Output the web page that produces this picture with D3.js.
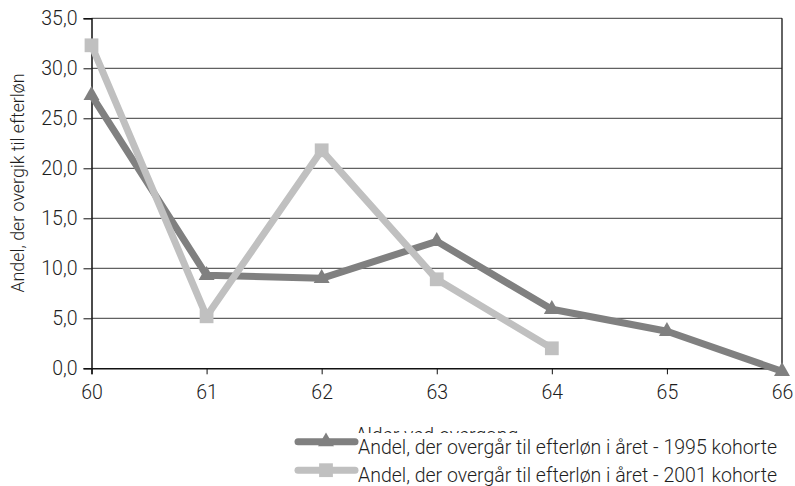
<!DOCTYPE html>
<html>
<head>
<meta charset="utf-8">
<script src="https://cdn.jsdelivr.net/npm/d3@7"></script>
<style>
  html, body { margin: 0; padding: 0; background: #fff; }
  svg text { font-family: Roboto, "Noto Sans", sans-serif; font-weight: 300; fill: #1e1e1e; }
</style>
</head>
<body>
<svg id="chart" width="795" height="486"></svg>
<script>
// Ages on the x axis
const ages = [60, 61, 62, 63, 64, 65, 66];
// Share (%) moving to early retirement in each year of age
const cohort1995 = [27.3, 9.3, 9.0, 12.7, 5.9, 3.7, -0.3];
const cohort2001 = [32.3, 5.2, 21.8, 8.9, 2.0];
const yTicks = [0, 5, 10, 15, 20, 25, 30, 35];
const seriesNames = [
  "Andel, der overgår til efterløn i året - 1995 kohorte",
  "Andel, der overgår til efterløn i året - 2001 kohorte"
];
const xTitle = "Alder ved overgang";
const yTitle = "Andel, der overgik til efterløn";

const FS = 19.5;
const svg = d3.select("#chart");
const m = { left: 91.5, right: 782, top: 18.3, bottom: 368.3 };

const x = d3.scaleLinear().domain([60, 66]).range([m.left, m.right]);
const y = d3.scaleLinear().domain([0, 35]).range([m.bottom, m.top]);
const fmt = v => d3.format(".1f")(v).replace(".", ",");

// horizontal gridlines
svg.append("g").selectAll("line").data(yTicks.filter(t => t > 0)).join("line")
  .attr("x1", m.left).attr("x2", m.right)
  .attr("y1", d => y(d)).attr("y2", d => y(d))
  .attr("stroke", "#3a3a3a").attr("stroke-width", 1);

// right border of the plot area
svg.append("line").attr("x1", m.right).attr("x2", m.right)
  .attr("y1", m.top).attr("y2", m.bottom)
  .attr("stroke", "#111").attr("stroke-width", 1.3);

// y axis
const yAxis = svg.append("g").attr("transform", `translate(${m.left},0)`)
  .call(d3.axisLeft(y).tickValues(yTicks).tickFormat(fmt).tickSize(8).tickPadding(6));
yAxis.attr("font-size", FS).attr("font-family", null);
yAxis.select(".domain").attr("stroke", "#111").attr("stroke-width", 1.5);
yAxis.selectAll(".tick line").attr("stroke", "#111");
yAxis.selectAll("text").style("font-size", FS + "px").attr("fill", "#1e1e1e");

// x axis
const xAxis = svg.append("g").attr("transform", `translate(0,${m.bottom})`)
  .call(d3.axisBottom(x).tickValues(ages).tickFormat(d3.format("d")).tickSize(6).tickPadding(11));
xAxis.attr("font-size", FS).attr("font-family", null);
xAxis.select(".domain").attr("stroke", "#111").attr("stroke-width", 1.5);
xAxis.selectAll(".tick line").attr("stroke", "#111");
xAxis.selectAll("text").style("font-size", FS + "px").attr("fill", "#1e1e1e");

// axis titles
svg.append("text")
  .attr("transform", `translate(24,183) rotate(-90)`)
  .attr("text-anchor", "middle").style("font-size", "17.8px").text(yTitle);
svg.append("text")
  .attr("x", (m.left + m.right) / 2).attr("y", 442)
  .attr("text-anchor", "middle").style("font-size", FS + "px").text(xTitle);

const line = d3.line().x((d, i) => x(ages[i])).y(d => y(d));
const triangle = d3.symbol().type(d3.symbolTriangle).size(110);
const square = d3.symbol().type(d3.symbolSquare).size(190);

const series = [
  { values: cohort1995, color: "#808080", sym: triangle },
  { values: cohort2001, color: "#c0c0c0", sym: square }
];

series.forEach(s => {
  svg.append("path").datum(s.values)
    .attr("d", line).attr("fill", "none")
    .attr("stroke", s.color).attr("stroke-width", 7)
    .attr("stroke-linejoin", "round").attr("stroke-linecap", "round");
});
series.forEach(s => {
  svg.append("g").selectAll("path").data(s.values).join("path")
    .attr("d", s.sym)
    .attr("transform", (d, i) => `translate(${x(ages[i])},${y(d)})`)
    .attr("fill", s.color);
});

// legend (white box overlays the lower part of the x title)
const lg = svg.append("g");
lg.append("rect").attr("x", 292).attr("y", 433).attr("width", 503).attr("height", 53).attr("fill", "#fff");
series.forEach((s, i) => {
  const cy = 441.7 + i * 28.5;
  lg.append("line").attr("x1", 298).attr("x2", 355).attr("y1", cy).attr("y2", cy)
    .attr("stroke", s.color).attr("stroke-width", 7).attr("stroke-linecap", "round");
  lg.append("path").attr("d", s.sym).attr("transform", `translate(326,${cy})`).attr("fill", s.color);
  lg.append("text").attr("x", 358).attr("y", cy + 12)
    .style("font-size", FS + "px").text(seriesNames[i]);
});
</script>
</body>
</html>
